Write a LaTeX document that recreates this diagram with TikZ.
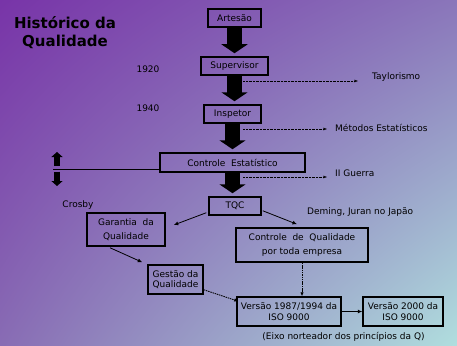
\documentclass[tikz,border=0pt]{standalone}
\usepackage{fontspec}
\setmainfont{DejaVu Sans}
\usetikzlibrary{arrows.meta,positioning,calc,shadings}

\definecolor{bgul}{RGB}{120,52,168}
\definecolor{bgur}{RGB}{138,118,186}
\definecolor{bgll}{RGB}{136,108,180}
\definecolor{bglr}{RGB}{176,222,222}

\begin{document}
\begin{tikzpicture}[x=1pt, y=-1pt, font=\fontsize{9}{10.5}\selectfont,
box/.style={draw=black, line width=1.5pt, inner sep=1pt, align=center, minimum height=18pt},
bigarrow/.style={line width=15pt, -{Triangle[length=9pt,width=26pt]}, shorten >=3pt},
smallblock/.style={line width=5.5pt, -{Triangle[length=5pt,width=11pt]}},
dotarrow/.style={densely dotted, thin, -{Latex[length=3.5pt,width=3pt]}},
dasharrow/.style={dash pattern=on 1.5pt off 0.8pt, line width=0.8pt, -{Latex[length=4pt,width=3.5pt]}},
thinarrow/.style={thick, -{Latex[length=4.5pt,width=4pt]}},
lbl/.style={inner sep=0pt}]

\useasboundingbox (0,0) rectangle (457,345);
\shade[upper left=bgul, upper right=bgur, lower left=bgll, lower right=bglr]
  (0,0) rectangle (457,345);

% titulo
\node[font=\fontsize{15}{18}\selectfont\bfseries, align=center] (titulo) at (65,33) {Histórico da\\Qualidade};

% coluna principal
\node[box, minimum width=53pt] (art) at (234.5,18) {Artesão};
\node[box, minimum width=67pt] (sup) at (234.5,66) {Supervisor};
\node[box, minimum width=57pt] (insp) at (232.5,114) {Inspetor};
\node[box, minimum width=145pt, minimum height=19pt] (ce) at (232.5,162.5) {Controle\ \ Estatístico};
\node[box, minimum width=52pt] (tqc) at (235,206) {TQC};

\foreach \a/\b in {art/sup, sup/insp, insp/ce, ce/tqc}
{\draw[bigarrow] (\a.south) -- (\a.south |- \b.north); }

% anos
\node[lbl] (a1920) at (148,69) {1920};
\node[lbl] (a1940) at (148,108) {1940};

% marcos a direita
\node[lbl, anchor=west] (tay) at (372,77) {Taylorismo};
\node[lbl, anchor=west] (met) at (335,128) {Métodos Estatísticos};
\node[lbl, anchor=west] (guerra) at (335,173) {II Guerra};

\coordinate (s1) at (243,81);
\coordinate (s2) at (243,129);
\coordinate (s3) at (243,177);
\draw[dotarrow, shorten >=14pt] (s1) -- (s1 -| tay.west);
\draw[dotarrow, shorten >=8pt] (s2) -- (s2 -| met.west);
\draw[dotarrow, shorten >=8pt] (s3) -- (s3 -| guerra.west);

% marcador a esquerda
\coordinate (lft) at (53,169);
\coordinate (upA) at (57,166);
\coordinate (upB) at (57,152);
\coordinate (dnA) at (57,171.5);
\coordinate (dnB) at (57,186);
\draw[semithick] (lft) -- (lft -| ce.west);
\draw[smallblock] (upA) -- (upB);
\draw[smallblock] (dnA) -- (dnB);

% ramos
\node[lbl] (crosby) at (78,205) {Crosby};
\node[lbl, anchor=west] (deming) at (307,212) {Deming, Juran no Japão};

\node[box, minimum width=78pt, minimum height=33pt] (gq) at (126,229.5) {Garantia\ \ da\\[4pt]Qualidade};
\node[box, minimum width=132pt, minimum height=34pt] (cqte) at (302,245) {Controle\ \ de\ \ Qualidade\\[4pt]por toda empresa};
\node[box, minimum width=55pt, minimum height=29pt, align=left] (gest) at (175.5,279.5) {Gestão da\\Qualidade};
\node[box, minimum width=104pt, minimum height=29pt] (v87) at (289,311.5) {Versão 1987/1994 da\\ISO 9000};
\node[box, minimum width=80pt, minimum height=29pt] (v2k) at (403,311.5) {Versão 2000 da\\ISO 9000};
\node[lbl] (eixo) at (343.5,337) {(Eixo norteador dos princípios da Q)};

\draw[thinarrow] ($(tqc.south west)+(-2,-3)$) -- ($(gq.east)+(8,-4.5)$);
\draw[thinarrow] ($(tqc.south east)+(1,-5)$) -- ($(cqte.north)+(-5,-3)$);
\draw[thinarrow] ($(gq.south)+(-16,1)$) -- ($(gest.north west)+(-5,-2)$);
\draw[dasharrow] ($(gest.south east)+(0,-5)$) -- ($(v87.north west)+(2,5)$);
\draw[dasharrow] (cqte.south) -- (cqte.south |- v87.north);
\draw[thinarrow] (v87) -- (v2k);
\end{tikzpicture}
\end{document}
